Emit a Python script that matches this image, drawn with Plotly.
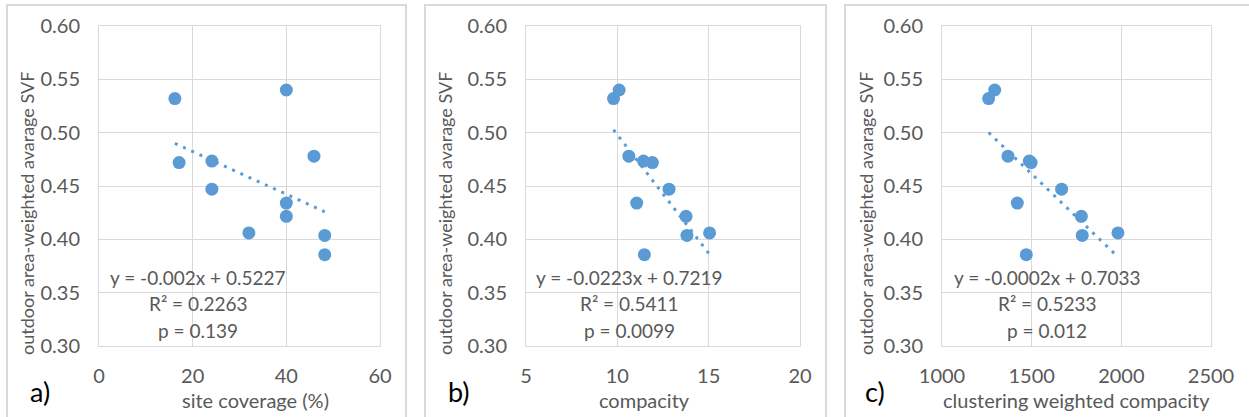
import numpy as np
import plotly.graph_objects as go

# ---- data ----
svf = [0.540, 0.532, 0.478, 0.4734, 0.472, 0.447, 0.434, 0.4216, 0.406, 0.4037, 0.3856]
site_coverage = [40.0, 16.2, 45.9, 24.1, 17.1, 24.1, 40.0, 40.0, 32.0, 48.2, 48.2]
compacity = [10.10, 9.79, 10.63, 11.43, 11.92, 12.83, 11.06, 13.76, 15.05, 13.81, 11.48]
clust_compacity = [1294, 1260, 1368, 1487, 1497, 1667, 1420, 1777, 1981, 1782, 1470]

x_titles = ["site coverage (%)", "compacity", "clustering weighted compacity"]
y_title = "outdoor area-weighted avarage SVF"
panel_labels = ["a)", "b)", "c)"]
equations = ["y = -0.002x + 0.5227", "y = -0.0223x + 0.7219", "y = -0.0002x + 0.7033"]
r2_texts = ["R² = 0.2263", "R² = 0.5411", "R² = 0.5233"]
p_texts = ["p = 0.139", "p = 0.0099", "p = 0.012"]
x_ranges = [[0, 60], [5, 20], [1000, 2500]]
x_dticks = [20, 5, 500]

W, H = 1249, 417
def px(x):
    return x / W
def py(y):
    return 1 - y / H

BLUE = "#5b9bd5"
GRID = "#d9d9d9"
TXT = "#595959"
FONT = "Lato"

x_domains = [[99, 380], [526, 800], [942, 1211]]
y_domain = [py(346), py(26)]
frames = [[7, 406], [425, 826], [845, 1260]]
ytitle_x = [27, 445, 866]
xtitle_x = [255, 644, 1076]
label_x = [40, 459, 875]
eq_x = [198, 629, 1047]

fig = go.Figure()
xs_all = [site_coverage, compacity, clust_compacity]
for i, xs in enumerate(xs_all):
    xa = "x" if i == 0 else f"x{i+1}"
    ya = "y" if i == 0 else f"y{i+1}"
    fig.add_trace(go.Scatter(x=xs, y=svf, mode="markers", xaxis=xa, yaxis=ya,
                             marker=dict(color=BLUE, size=13), showlegend=False))
    slope, icpt = np.polyfit(xs, svf, 1)
    xl = [min(xs), max(xs)]
    yl = [slope * v + icpt for v in xl]
    fig.add_trace(go.Scatter(x=xl, y=yl, mode="lines", xaxis=xa, yaxis=ya,
                             line=dict(color=BLUE, width=3, dash="3px,6px"), showlegend=False))

    axis_common = dict(showgrid=True, gridcolor=GRID, gridwidth=1, zeroline=False,
                       showline=True, mirror=True, linecolor=GRID, linewidth=1,
                       ticks="outside", tickcolor="rgba(0,0,0,0)", automargin=False,
                       tickfont=dict(family=FONT, size=20, color=TXT))
    fig.layout[f"xaxis{'' if i == 0 else i+1}"] = dict(
        axis_common, domain=[px(x_domains[i][0]), px(x_domains[i][1])],
        range=x_ranges[i], dtick=x_dticks[i], tick0=x_ranges[i][0], ticklen=12,
        anchor=ya)
    fig.layout[f"yaxis{'' if i == 0 else i+1}"] = dict(
        axis_common, domain=y_domain, range=[0.30, 0.60], dtick=0.05, tick0=0.30,
        tickformat=".2f", ticklen=14, anchor=xa)

    # panel frame
    fig.add_shape(type="rect", xref="paper", yref="paper",
                  x0=px(frames[i][0]), x1=px(frames[i][1]), y0=py(425), y1=py(5),
                  line=dict(color=GRID, width=2), layer="below")
    # axis titles
    fig.add_annotation(text=y_title, xref="paper", yref="paper", x=px(ytitle_x[i]), y=py(214),
                       textangle=-90, showarrow=False, xanchor="center", yanchor="middle",
                       font=dict(family=FONT, size=18, color=TXT))
    fig.add_annotation(text=x_titles[i], xref="paper", yref="paper", x=px(xtitle_x[i]), y=py(400),
                       showarrow=False, xanchor="center", yanchor="middle",
                       font=dict(family=FONT, size=20, color=TXT))
    fig.add_annotation(text=panel_labels[i], xref="paper", yref="paper", x=px(label_x[i]), y=py(391),
                       showarrow=False, xanchor="center", yanchor="middle",
                       font=dict(family=FONT, size=27, color="#000000"))
    for txt, yy in zip([equations[i], r2_texts[i], p_texts[i]], [277, 303, 330]):
        fig.add_annotation(text=txt, xref="paper", yref="paper", x=px(eq_x[i]), y=py(yy),
                           showarrow=False, xanchor="center", yanchor="middle",
                           font=dict(family=FONT, size=19, color=TXT))

fig.update_layout(width=W, height=H, margin=dict(l=0, r=0, t=0, b=0),
                  paper_bgcolor="white", plot_bgcolor="white")
fig.write_html("out.html", config={"displayModeBar": False},
               post_script="document.body.style.margin='0';document.body.style.overflow='hidden';")
